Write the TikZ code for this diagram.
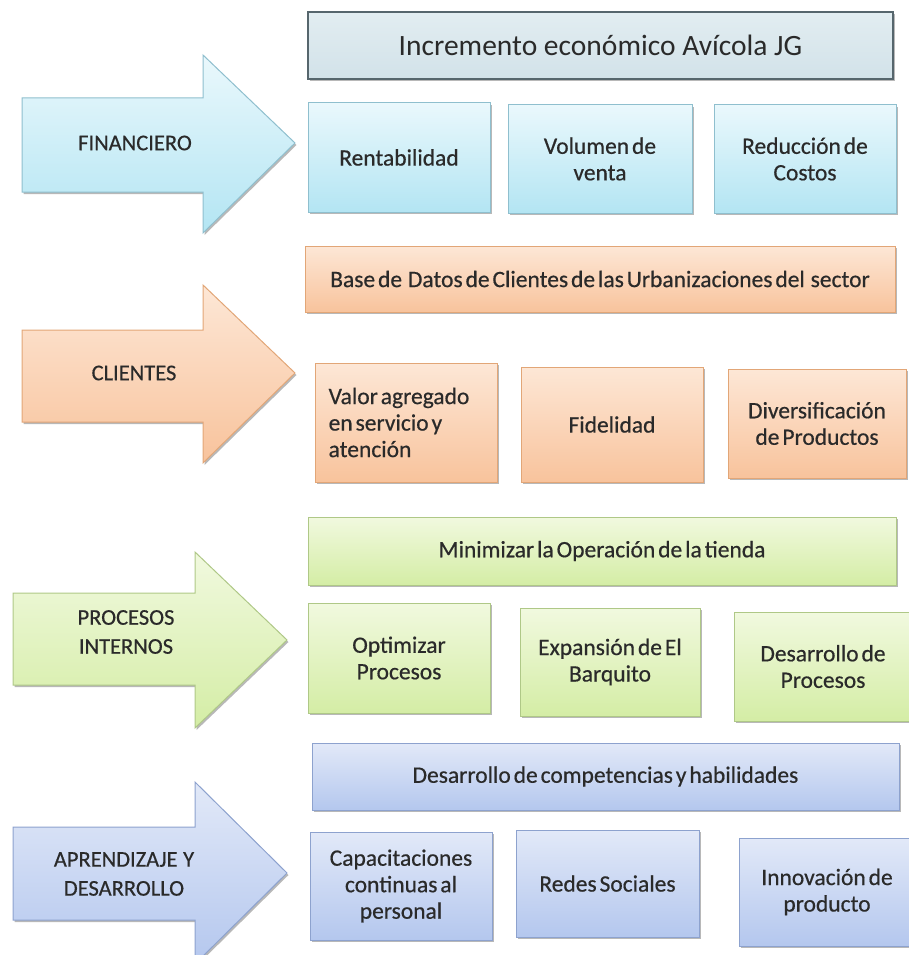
\documentclass[tikz,border=0pt]{standalone}
\usepackage{fontspec}
\setmainfont{Carlito}
\newfontfamily\boxfont{Carlito}[FakeBold=0.5, WordSpace=0.55]
\newfontfamily\ttlfont{Carlito}
\usetikzlibrary{shadows}

% row palettes: top / bottom fill and border
\definecolor{txt}{HTML}{2A2A2A}
\definecolor{finT}{HTML}{EAF8FC}
\definecolor{finB}{HTML}{B3E5F3}
\definecolor{finD}{HTML}{8FBFCE}
\definecolor{ttlT}{HTML}{E2EDF1}
\definecolor{ttlB}{HTML}{D2E2E9}
\definecolor{ttlD}{HTML}{56666D}
\definecolor{cliT}{HTML}{FDE7D6}
\definecolor{cliB}{HTML}{F8C39C}
\definecolor{cliD}{HTML}{E2A677}
\definecolor{proT}{HTML}{F1F9DF}
\definecolor{proB}{HTML}{D4EDA5}
\definecolor{proD}{HTML}{AFC887}
\definecolor{aprT}{HTML}{E2E9F8}
\definecolor{aprB}{HTML}{B4C7EE}
\definecolor{aprD}{HTML}{8DA2CE}

\tikzset{
  softshadow/.style={drop shadow={shadow xshift=1.5pt, shadow yshift=-2pt, fill=black, opacity=0.28}},
  box/.style={rectangle, draw, line width=1pt, text=txt, align=center, inner sep=0pt,
    font=\boxfont\fontsize{23.5pt}{26.5pt}\selectfont, softshadow},
  finbox/.style={box, draw=finD, top color=finT, bottom color=finB},
  ttlbox/.style={box, draw=ttlD, line width=1.8pt, top color=ttlT, bottom color=ttlB,
    font=\ttlfont\fontsize{29.5pt}{34pt}\selectfont},
  clibox/.style={box, draw=cliD, top color=cliT, bottom color=cliB},
  probox/.style={box, draw=proD, top color=proT, bottom color=proB},
  aprbox/.style={box, draw=aprD, top color=aprT, bottom color=aprB},
  bigarrow/.style={line width=1pt, line join=miter, softshadow},
  arrowlabel/.style={text=txt, align=center, font=\boxfont\fontsize{22.5pt}{29pt}\selectfont},
}

\begin{document}
\begin{tikzpicture}[x=1pt, y=-1pt]
\useasboundingbox (0,0) rectangle (909,955);
\clip (0,0) rectangle (909,955);

% ---- FINANCIERO ----
\path[bigarrow, draw=finD, top color=finT, bottom color=finB]
  (22,98) -- (203,98) -- (203,55) -- (295,143) -- (203,233) -- (203,192) -- (22,192) -- cycle;
\node[arrowlabel] (lfin) at (135,143) {FINANCIERO};

\node[ttlbox, minimum width=585pt, minimum height=67pt] (title) at (600.5,45.5)
  {Incremento económico Avícola JG};
\node[finbox, minimum width=182pt, minimum height=109pt] (f1) at (399,157.5) {Rentabilidad};
\node[finbox, minimum width=184pt, minimum height=108pt] (f2) at (600,159) {Volumen de\\venta};
\node[finbox, minimum width=182pt, minimum height=108pt] (f3) at (805,159) {Reducción de\\Costos};

% ---- CLIENTES ----
\path[bigarrow, draw=cliD, top color=cliT, bottom color=cliB]
  (22,330) -- (203,330) -- (203,285) -- (295,373) -- (203,463) -- (203,422) -- (22,422) -- cycle;
\node[arrowlabel] (lcli) at (134,373) {CLIENTES};

\node[clibox, minimum width=590pt, minimum height=66pt] (c0) at (600,279)
  {Base de\ \ Datos de Clientes de las Urbanizaciones del\ \ sector};
\node[clibox, minimum width=182pt, minimum height=119pt, align=left]
  (c1) at (406,422.5) {Valor agregado\hspace*{14pt}\\en servicio y\\atención};
\node[clibox, minimum width=182pt, minimum height=115pt] (c2) at (612,424.5) {Fidelidad};
\node[clibox, minimum width=178pt, minimum height=109pt] (c3) at (817,423.5) {Diversificación\\de Productos};

% ---- PROCESOS INTERNOS ----
\path[bigarrow, draw=proD, top color=proT, bottom color=proB]
  (13,593) -- (195,593) -- (195,552) -- (287,640) -- (195,728) -- (195,685) -- (13,685) -- cycle;
\node[arrowlabel] (lpro) at (126,632) {PROCESOS\\INTERNOS};

\node[probox, minimum width=588pt, minimum height=68pt] (p0) at (602,551)
  {Minimizar la Operación de la tienda};
\node[probox, minimum width=182pt, minimum height=110pt] (p1) at (399,658) {Optimizar\\Procesos};
\node[probox, minimum width=180pt, minimum height=108pt] (p2) at (610,662) {Expansión de El\\Barquito};
\node[probox, minimum width=178pt, minimum height=109pt] (p3) at (823,666.5) {Desarrollo de\\Procesos};

% ---- APRENDIZAJE Y DESARROLLO ----
\path[bigarrow, draw=aprD, top color=aprT, bottom color=aprB]
  (13,827) -- (195,827) -- (195,782) -- (287,873) -- (195,964) -- (195,920) -- (13,920) -- cycle;
\node[arrowlabel] (lapr) at (124,874) {APRENDIZAJE\ \ Y\\DESARROLLO};

\node[aprbox, minimum width=587pt, minimum height=67pt] (a0) at (605.5,776.5)
  {Desarrollo de competencias y habilidades};
\node[aprbox, minimum width=182pt, minimum height=108pt] (a1) at (401,886) {Capacitaciones\\continuas al\\personal};
\node[aprbox, minimum width=183pt, minimum height=107pt] (a2) at (607.5,883.5) {Redes Sociales};
\node[aprbox, minimum width=176pt, minimum height=108pt] (a3) at (827,892) {Innovación de\\producto};
\end{tikzpicture}
\end{document}
